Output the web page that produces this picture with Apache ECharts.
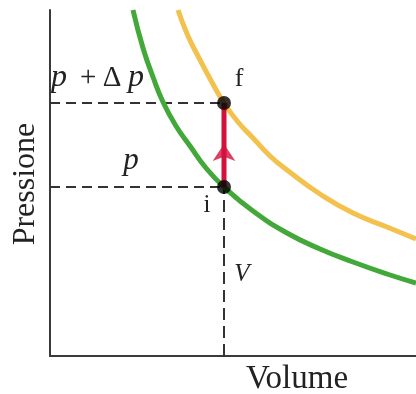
<!DOCTYPE html>
<html>
<head>
<meta charset="utf-8">
<script src="https://cdn.jsdelivr.net/npm/echarts@6/dist/echarts.min.js"></script>
<style>
html,body{margin:0;padding:0;background:#fff;}
#chart{width:416px;height:394px;}
</style>
</head>
<body>
<div id="chart"></div>
<script>
// Data (arbitrary units)
const greenVolume = [83, 93, 103, 113, 126, 140, 156, 174, 203, 237, 270, 303, 337, 366];
const greenPressure = [346, 308, 279, 254, 230, 210, 188, 169, 145, 123, 107, 94, 82, 73];
const yellowVolume = [128, 138, 149, 164, 174, 188, 203, 220, 237, 270, 303, 337, 366];
const yellowPressure = [346, 320, 298, 270, 253, 234, 218, 200, 186, 162, 143, 129, 117];
const pointI = [174, 169];
const pointF = [174, 253];
const arrowHead = [174, 212];
const axisMax = { volume: 366, pressure: 346 };

const zip = (a, b) => a.map((v, i) => [v, b[i]]);
const serif = '"Liberation Serif", "Times New Roman", serif';
const ink = '#222';
const dash = { color: '#333', width: 2, type: [10, 6] };

const chart = echarts.init(document.getElementById('chart'));
chart.setOption({
  animation: false,
  backgroundColor: '#fff',
  grid: { left: 50, right: 0, top: 10, bottom: 38 },
  xAxis: {
    type: 'value', min: 0, max: axisMax.volume,
    axisLine: { show: true, onZero: false, lineStyle: { color: '#3a3a3a', width: 2 } },
    axisTick: { show: false }, axisLabel: { show: false }, splitLine: { show: false }
  },
  yAxis: {
    type: 'value', min: 0, max: axisMax.pressure,
    axisLine: { show: true, onZero: false, lineStyle: { color: '#3a3a3a', width: 2 } },
    axisTick: { show: false }, axisLabel: { show: false }, splitLine: { show: false }
  },
  series: [
    { type: 'line', data: [[0, pointF[1]], pointF], symbol: 'none', lineStyle: dash, z: 2 },
    { type: 'line', data: [[0, pointI[1]], pointI], symbol: 'none', lineStyle: dash, z: 2 },
    { type: 'line', data: [[pointI[0], 0], pointI], symbol: 'none', lineStyle: { color: '#333', width: 2, type: [12, 6] }, z: 2 },
    { type: 'line', data: zip(yellowVolume, yellowPressure), smooth: 0.5, symbol: 'none', clip: false,
      lineStyle: { color: '#f2c14e', width: 5 }, z: 3 },
    { type: 'line', data: zip(greenVolume, greenPressure), smooth: 0.5, symbol: 'none', clip: false,
      lineStyle: { color: '#43a83a', width: 5 }, z: 3 },
    { type: 'line', data: [pointI, pointF], symbol: 'none', lineStyle: { color: '#d3123c', width: 5 }, z: 4 },
    { type: 'scatter', data: [arrowHead], symbol: 'arrow', symbolSize: [17, 17],
      itemStyle: { color: '#d3123c' }, z: 5 },
    { type: 'scatter', data: [pointI, pointF], symbol: 'circle', symbolSize: 14,
      itemStyle: { color: '#000' }, z: 6 }
  ],
  graphic: [
    { type: 'text', x: 51, y: 78, style: { text: '{p|p}  {o|+} {o|Δ} {p|p}', font: '26px ' + serif, fill: ink,
        verticalAlign: 'middle', align: 'left',
        rich: { p: { font: 'italic 32px ' + serif, fill: ink }, o: { font: '29px ' + serif, fill: ink } } } },
    { type: 'text', x: 131, y: 161, style: { text: 'p', font: 'italic 31px ' + serif, fill: ink, align: 'center', verticalAlign: 'middle' } },
    { type: 'text', x: 239, y: 79, style: { text: 'f', font: '26px ' + serif, fill: ink, align: 'center', verticalAlign: 'middle' } },
    { type: 'text', x: 207, y: 205, style: { text: 'i', font: '25px ' + serif, fill: ink, align: 'center', verticalAlign: 'middle' } },
    { type: 'text', x: 242, y: 274, style: { text: 'V', font: 'italic 25px ' + serif, fill: ink, align: 'center', verticalAlign: 'middle' } },
    { type: 'text', x: 297, y: 379, style: { text: 'Volume', font: '33px ' + serif, fill: ink, align: 'center', verticalAlign: 'middle' } },
    { type: 'text', x: 26, y: 184, rotation: Math.PI / 2, style: { text: 'Pressione', font: '32px ' + serif, fill: ink, align: 'center', verticalAlign: 'middle' } }
  ]
});
</script>
</body>
</html>
